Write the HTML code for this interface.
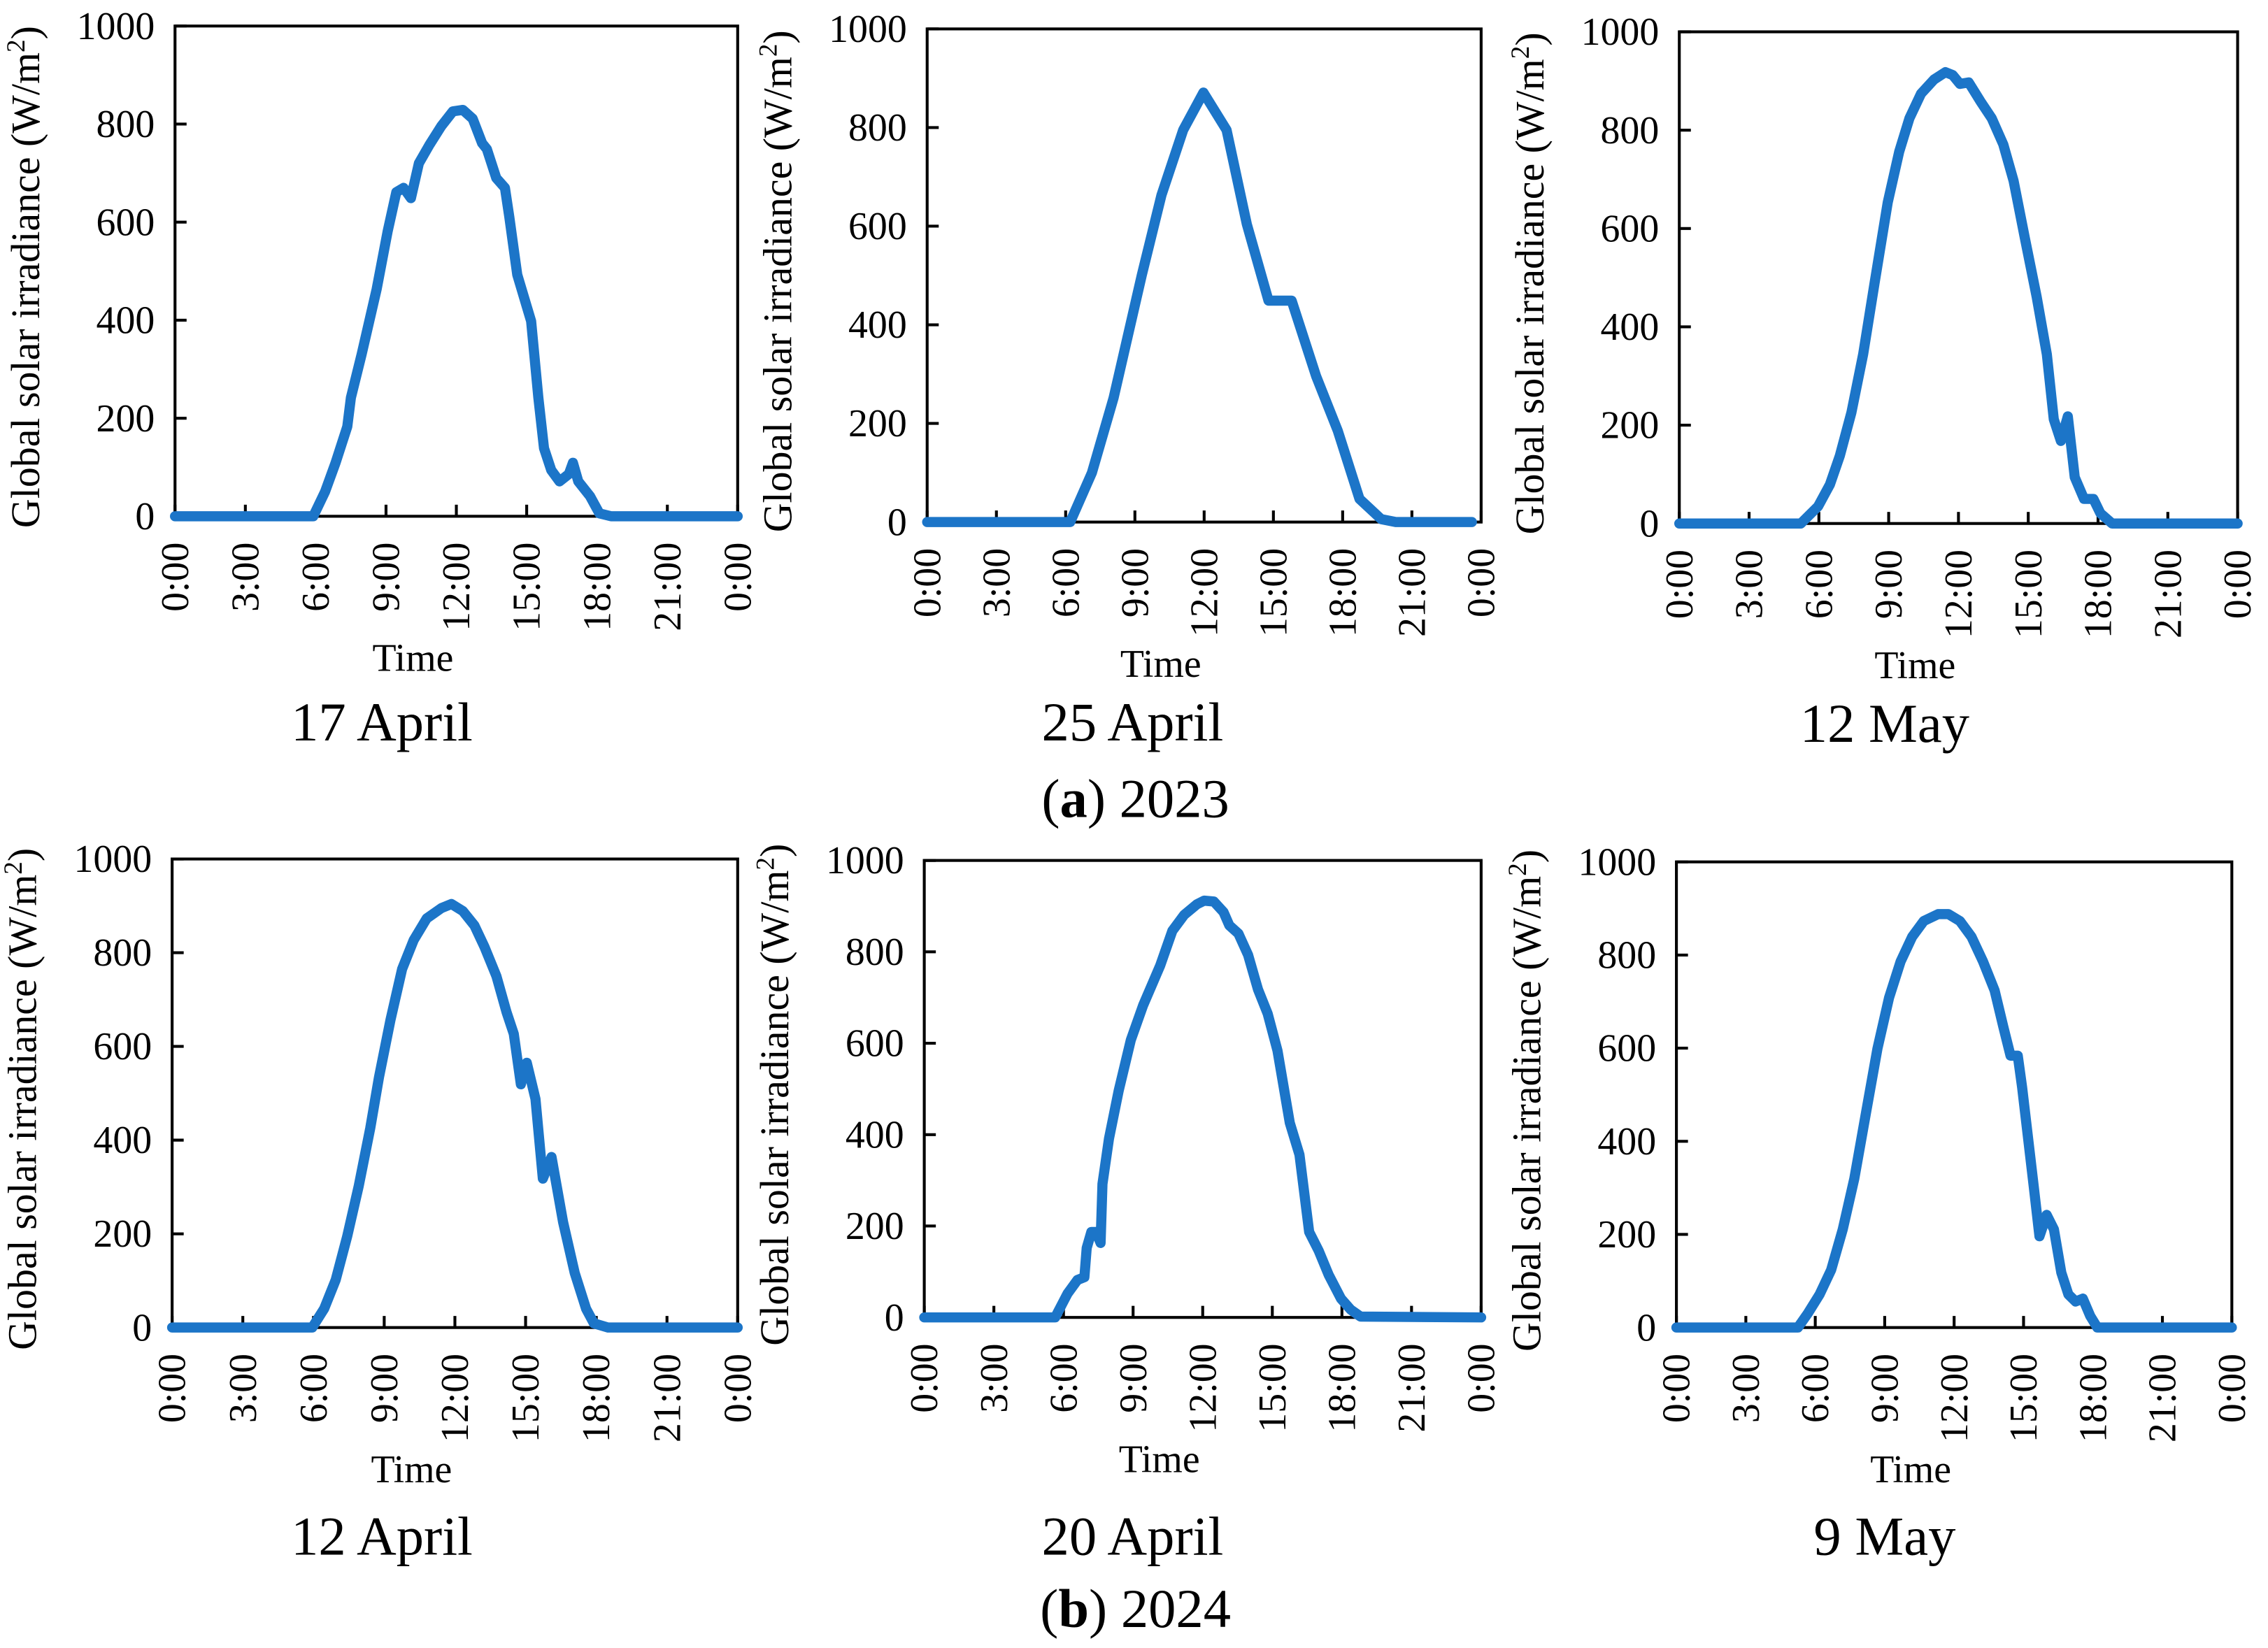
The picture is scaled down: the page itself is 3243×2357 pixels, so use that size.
<!DOCTYPE html>
<html><head><meta charset="utf-8"><style>
html,body{margin:0;padding:0;background:#fff;}
svg{display:block;font-family:"Liberation Serif","Times New Roman",serif;}
svg text, svg tspan{font-family:"Liberation Serif","Times New Roman",serif !important;fill:#000;}
</style></head><body>
<svg id="fig" width="3243" height="2357" viewBox="0 0 1568 1139.6" preserveAspectRatio="none" xmlns="http://www.w3.org/2000/svg" font-family="Liberation Serif, serif">
<text x="785" y="565" font-size="38" text-anchor="middle" font-family="Liberation Serif, serif">(<tspan font-weight="bold">a</tspan>) 2023</text>
<text x="785" y="1125" font-size="38" text-anchor="middle" font-family="Liberation Serif, serif">(<tspan font-weight="bold">b</tspan>) 2024</text>
</svg>
<script>
const hours1 = [0,5.9,6.4,6.85,7.35,7.5,7.96,8.6,9.07,9.44,9.75,10.06,10.4,10.86,11.36,11.85,12.28,12.7,13.1,13.3,13.7,14.07,14.26,14.6,15.19,15.5,15.74,16.05,16.4,16.8,16.97,17.2,17.7,18.1,18.6,24];
const values1 = [0,0,50,109,183,242,330,463,581,661,670,649,720,758,796,826,829,811,761,749,690,670,611,493,398,242,139,94,71,86,109,71,41,6,0,0];
const hours2 = [0,6.2,7.14,8.08,9.3,10.15,11.09,11.97,12.97,13.85,14.79,15.79,16.85,17.79,18.73,19.67,20.3,23.6];
const values2 = [0,0,100,252,501,663,795,871,795,604,449,449,296,185,47,6,0,0];
const hours3 = [0,5.22,5.97,6.47,6.9,7.4,7.9,8.4,8.96,9.45,9.89,10.39,10.95,11.44,11.75,12.06,12.44,12.94,13.43,13.93,14.37,14.86,15.36,15.8,16.1,16.4,16.7,17.0,17.4,17.8,18.1,18.6,24];
const values3 = [0,0,35,79,138,226,344,491,653,756,824,874,903,918,912,894,897,859,824,771,697,579,462,344,212,168,218,94,50,50,21,0,0];
const hours4 = [0,5.95,6.45,6.94,7.43,7.92,8.41,8.78,9.27,9.76,10.25,10.8,11.42,11.85,12.34,12.83,13.26,13.76,14.19,14.5,14.8,15.05,15.42,15.73,16.1,16.59,17.08,17.57,17.9,18.5,24];
const values4 = [0,0,40,102,194,302,426,534,657,765,827,873,895,904,889,858,812,750,673,627,519,565,488,318,364,225,117,40,9,0,0];
const hours5 = [0,5.64,6.17,6.6,6.9,7.0,7.2,7.4,7.6,7.68,7.96,8.38,8.9,9.43,10.17,10.69,11.2,11.75,12.06,12.48,12.9,13.15,13.54,13.96,14.38,14.8,15.22,15.75,16.17,16.59,17.0,17.43,17.96,18.38,18.8,24];
const values5 = [0,0,52,82,88,152,187,187,163,292,391,496,607,683,770,846,881,904,912,910,887,858,840,793,718,665,584,426,356,187,146,93,41,17,2,0];
const hours6 = [0,5.25,5.69,6.19,6.69,7.19,7.69,8.19,8.69,9.19,9.69,10.19,10.69,11.31,11.75,12.25,12.75,13.25,13.75,14.125,14.44,14.75,14.94,15.44,15.69,16.0,16.31,16.63,16.94,17.25,17.56,17.88,18.19,24];
const values6 = [0,0,31,71,124,211,320,460,599,708,786,839,873,888,888,873,839,786,724,646,584,584,516,304,196,242,211,118,71,56,62,25,0,0];
const yTicks = [0,200,400,600,800,1000];
const xTickHours = [0,3,6,9,12,15,18,21,24];
const xTickLabels = ["0:00","3:00","6:00","9:00","12:00","15:00","18:00","21:00","0:00"];
const panelTitles = ["17 April","25 April","12 May","12 April","20 April","9 May"];

const panels = [
 {L:121,R:510,T:18,B:357,h:hours1,v:values1,tx:264,ty:512},
 {L:641,R:1024,T:20,B:361,h:hours2,v:values2,tx:783,ty:512},
 {L:1161,R:1547,T:22,B:362,h:hours3,v:values3,tx:1303,ty:513},
 {L:119,R:510,T:594,B:918,h:hours4,v:values4,tx:264,ty:1075},
 {L:639,R:1024,T:595,B:911,h:hours5,v:values5,tx:783,ty:1075},
 {L:1159,R:1543,T:596,B:918,h:hours6,v:values6,tx:1303,ty:1075}
];
const NS="http://www.w3.org/2000/svg";
const FF="Liberation Serif, serif";
const svg=document.getElementById('fig');
function mk(tag,attrs,parent){const e=document.createElementNS(NS,tag);for(const k in attrs)e.setAttribute(k,attrs[k]);if(tag==='text')e.setAttribute('font-family',FF);(parent||svg).appendChild(e);return e;}
panels.forEach((p,i)=>{
  const g=mk('g',{});
  
  
  const xs=t=>p.L+(p.R-p.L)*t/24;
  const ys=v=>p.B-(p.B-p.T)*v/1000;
  const box=mk('rect',{x:p.L,y:p.T,width:p.R-p.L,height:p.B-p.T,fill:'none',stroke:'#000','stroke-width':2},g);
  
  
  yTicks.forEach(v=>{
    const tk=mk('line',{x1:p.L,x2:p.L+8,y1:ys(v),y2:ys(v),stroke:'#000','stroke-width':2},g);
    
    
    const tl=mk('text',{x:p.L-14,y:ys(v)+9,'font-size':27,'text-anchor':'end'},g);
    tl.textContent=v;
    
    
  });
  xTickHours.forEach((t,j)=>{
    const tk=mk('line',{x1:xs(t),x2:xs(t),y1:p.B,y2:p.B-8,stroke:'#000','stroke-width':2},g);
    
    
    const x=xs(t)+9,y=p.B+18;
    const tl=mk('text',{x:x,y:y,'font-size':27,'text-anchor':'end',transform:'rotate(-90 '+x+' '+y+')'},g);
    tl.textContent=xTickLabels[j];
    
    
  });
  const yx=p.L-94,yy=(p.T+p.B)/2+4;
  const yl=mk('text',{x:yx,y:yy,'font-size':28,'text-anchor':'middle',transform:'rotate(-90 '+yx+' '+yy+')'},g);
  yl.innerHTML='Global solar irradiance (W/m<tspan font-size="18" dy="-10">2</tspan><tspan dy="10">)</tspan>';
  
  
  const xt=mk('text',{x:(p.L+p.R)/2-30,y:p.B+107,'font-size':27,'text-anchor':'middle'},g);
  xt.textContent='Time';
  
  
  const tt=mk('text',{x:p.tx,y:p.ty,'font-size':38,'text-anchor':'middle'},g);
  tt.textContent=panelTitles[i];
  
  
  const pts=p.h.map((t,k)=>xs(t).toFixed(1)+','+ys(p.v[k]).toFixed(1)).join(' ');
  const ln=mk('polyline',{points:pts,fill:'none',stroke:'#1c75c8','stroke-width':7,'stroke-linejoin':'round','stroke-linecap':'round'},g);
  
  
});
</script>
</body></html>
